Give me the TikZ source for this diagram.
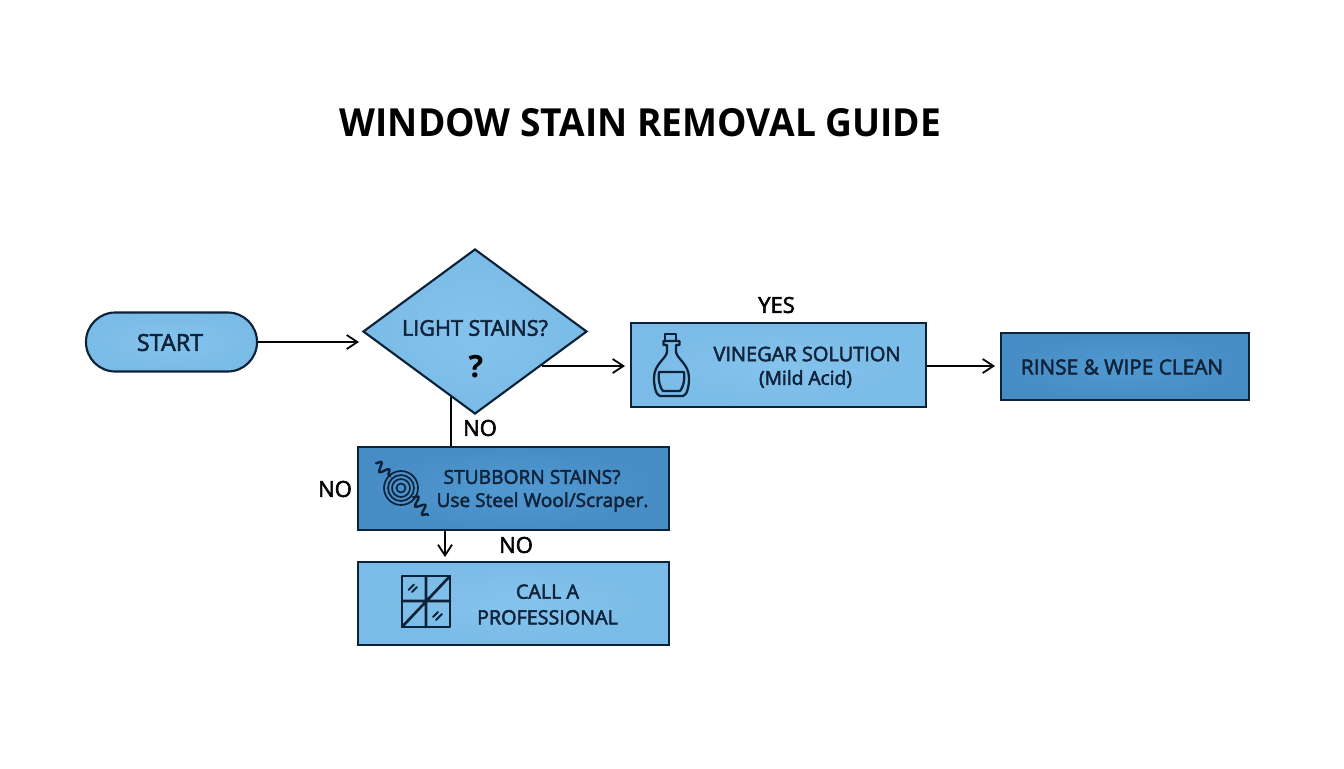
\documentclass[tikz,border=0pt]{standalone}
\usepackage{fontspec}
\setmainfont{Open Sans}[FakeBold=2.6]
\newfontfamily\titlefont{Open Sans Bold}[FakeStretch=0.96]
\newfontfamily\qfont{Open Sans Bold}
\usetikzlibrary{shapes.geometric,arrows.meta,decorations.pathmorphing}
\definecolor{lightin}{HTML}{84C3EC}
\definecolor{lightout}{HTML}{7ABBE7}
\definecolor{darkin}{HTML}{5199D1}
\definecolor{darkout}{HTML}{478DC5}
\definecolor{inkline}{HTML}{0C2238}
\definecolor{inktext}{HTML}{10233A}
\newcommand{\fsz}[1]{\fontsize{#1pt}{#1pt}\selectfont}
\tikzset{
  x=0.75pt,y=-0.75pt,
  lightrect/.style args={#1x#2}{draw=inkline,line width=1.6pt,inner color=lightin,outer color=lightout,inner sep=0pt,minimum width=#1*0.75pt,minimum height=#2*0.75pt},
  darkrect/.style args={#1x#2}{draw=inkline,line width=1.6pt,inner color=darkin,outer color=darkout,inner sep=0pt,minimum width=#1*0.75pt,minimum height=#2*0.75pt},
  txt/.style={text=inktext,align=center,inner sep=0pt},
  lbl/.style={text=black!90!inktext,font=\fsz{16.5},inner sep=0pt},
  conn/.style={draw=black!90!inkline,line width=1.35pt},
  arrowconn/.style={conn,-{Straight Barb[length=8pt,width=10.5pt,line width=1.35pt]}},
  icon/.style={draw=inkline,line width=1.7pt,line join=round,line cap=round},
  thinicon/.style={draw=inkline,line width=1.25pt,line join=round,line cap=round},
  squiggle/.style={icon,line width=1.8pt,decorate,decoration={snake,amplitude=3.4pt,segment length=8pt}},
}
\begin{document}
\begin{tikzpicture}
\useasboundingbox[fill=white] (0,0) rectangle (1344,768);
\node[font=\titlefont\fsz{29},text=black,inner sep=0pt] (title) at (640.5,123) {WINDOW STAIN REMOVAL GUIDE};

\node[lightrect=171x59,rounded corners=22pt] (start) at (171.5,342) {};
\node[txt,font=\fsz{17.5}] (starttxt) at (170,342.5) {START};

\node[diamond,aspect=1.357,draw=inkline,line width=1.6pt,inner color=lightin,outer color=lightout,inner sep=0pt,minimum width=168pt,minimum height=123.75pt] (dec) at (475,331.5) {};
\node[txt,font=\fsz{16.2}] (dectxt) at (475,328) {LIGHT STAINS?};
\node[font=\qfont\fsz{23},text=black,inner sep=0pt] (q) at (476,367) {?};

\node[lightrect=295x84] (vin) at (778.5,365) {};
\node[txt,font=\fsz{15}] (vintxt) at (807,354) {VINEGAR SOLUTION};
\node[txt,font=\fsz{14.4}] (vinsub) at (805.5,379) {(Mild Acid)};

\node[darkrect=248x67] (rinse) at (1125,366.5) {};
\node[txt,font=\fsz{15.6}] (rinsetxt) at (1122,367) {RINSE \& WIPE CLEAN};

\node[darkrect=311x83] (stub) at (513.5,488.5) {};
\node[txt,font=\fsz{14.4}] (stubtxt) at (532,477) {STUBBORN STAINS?};
\node[txt,font=\fsz{14.3}] (stubsub) at (542.5,502) {Use Steel Wool/Scraper.};

\node[lightrect=311x83] (call) at (513.5,603.5) {};
\node[txt,font=\fsz{14.8},align=center] (calltxt) at (547.5,604.5) {CALL A\\[4.5pt]PROFESSIONAL};

\node[lbl] (yes) at (776.5,305) {YES};
\node[lbl] (no1) at (480,428) {NO};
\node[lbl] (no2) at (335,489) {NO};
\node[lbl] (no3) at (516,545) {NO};

\coordinate (a1) at (359,342);
\draw[arrowconn] (start.east) -- (a1);
\coordinate (a2) at (625,366);
\draw[arrowconn] (dec.-27 |- a2) -- (a2);
\coordinate (a3) at (995,366);
\draw[arrowconn] (vin.east |- a3) -- (a3);
\draw[conn] (dec.-110.4) -- (dec.-110.4 |- stub.north);
\coordinate (c1) at (445,530);
\coordinate (c2) at (445,557);
\draw[arrowconn] (c1) -- (c2);

% bottle
\draw[icon] (665,334) rectangle (676,341);
\draw[icon] (663.5,341) -- (679.5,341) -- (679.5,345) -- (676,345) -- (676,352)
  .. controls (677,359) and (689,364) .. (689,378)
  .. controls (689,387) and (687,395) .. (683,396) -- (660,396)
  .. controls (656,395) and (654,387) .. (654,378)
  .. controls (654,364) and (666,359) .. (667,352) -- (667,345) -- (663.5,345) -- cycle;
\draw[icon] (659,372) -- (684,372) .. controls (685,380) and (683,388) .. (680,391) -- (663,391) .. controls (660,388) and (658,380) .. (659,372) -- cycle;

% steel wool
\foreach \r in {4.5,9,13,17} \draw[thinicon] (401,488) circle (\r*0.75pt);
\draw[squiggle] (376,463) -- (390,476);
\draw[squiggle] (413,497) -- (428,515);

% window
\draw[icon,line width=2pt] (402,576) rectangle (450,627);
\draw[icon,line width=2pt] (426,576) -- (426,627) (402,601) -- (450,601) (402,627) -- (450,576);
\draw[thinicon,line width=1.4pt] (408.5,590) -- (414,584.5) (412,592) -- (417,587);
\draw[thinicon,line width=1.4pt] (433,617) -- (438,612) (436,620) -- (442,614);
\end{tikzpicture}
\end{document}
